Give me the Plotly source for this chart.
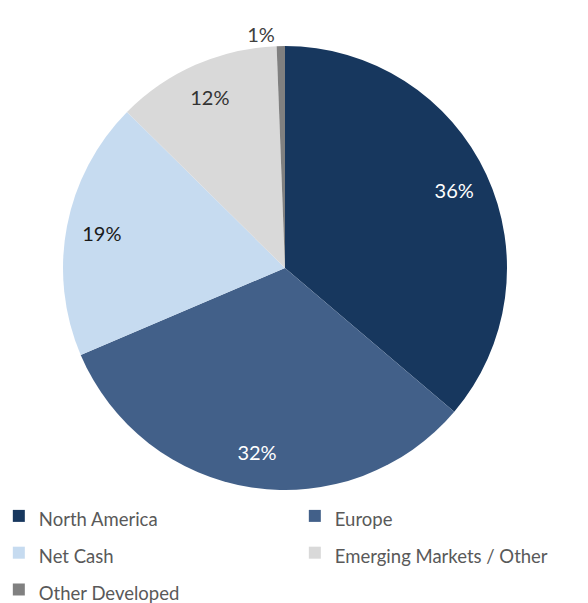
import plotly.graph_objects as go

regions = ["North America", "Europe", "Net Cash", "Emerging Markets / Other", "Other Developed"]
shares = [36.2, 32.4, 18.8, 12.0, 0.6]
colors = ["#17375E", "#426089", "#C6DBF0", "#D9D9D9", "#808080"]
text_colors = ["#FFFFFF", "#FFFFFF", "#1A1A1A", "#333333", "#404040"]
positions = ["inside", "inside", "inside", "inside", "outside"]

W, H = 588, 603
MB = 111                      # bottom margin holding the legend
PH = H - MB                   # plot-area height
cx, cy, r = 285, 268, 222     # pie centre / radius in pixels

dom = dict(
    x=[(cx - r) / W, (cx + r) / W],
    y=[(PH - (cy + r)) / PH, (PH - (cy - r)) / PH],
)

legend_labels = [f"<span style='font-size:18.5px'>{n}</span>" for n in regions]

# main pie (colours + legend)
fig = go.Figure(go.Pie(
    labels=legend_labels,
    values=shares,
    sort=False,
    direction="clockwise",
    rotation=0,
    marker=dict(colors=colors, line=dict(width=0)),
    textinfo="none",
    domain=dom,
    hovertemplate="%{customdata}: %{percent}<extra></extra>",
    customdata=regions,
))

# transparent ring on top, only to carry the percentage labels near the rim
fig.add_trace(go.Pie(
    labels=regions,
    values=shares,
    sort=False,
    direction="clockwise",
    rotation=0,
    hole=0.68,
    marker=dict(colors=["rgba(0,0,0,0)"] * len(regions), line=dict(width=0)),
    texttemplate="%{percent:.0%}",
    textposition=positions,
    insidetextorientation="horizontal",
    textfont=dict(family="Lato", size=20, color=text_colors),
    outsidetextfont=dict(family="Lato", size=20, color="#404040"),
    domain=dom,
    showlegend=False,
    hoverinfo="skip",
))

fig.update_layout(
    width=W, height=H,
    margin=dict(l=0, r=0, t=0, b=MB, autoexpand=False),
    paper_bgcolor="white",
    plot_bgcolor="white",
    font=dict(family="Lato", color="#595959"),
    showlegend=True,
    legend=dict(
        orientation="h",
        x=-0.002, xanchor="left",
        y=-0.001, yanchor="top",
        entrywidth=251, entrywidthmode="pixels",
        font=dict(family="Lato", size=26, color="#595959"),
        itemwidth=30,
        bgcolor="rgba(0,0,0,0)",
    ),
)

fig.write_html(
    "out.html",
    config={"displayModeBar": False},
    post_script="document.body.style.margin='0';",
)
